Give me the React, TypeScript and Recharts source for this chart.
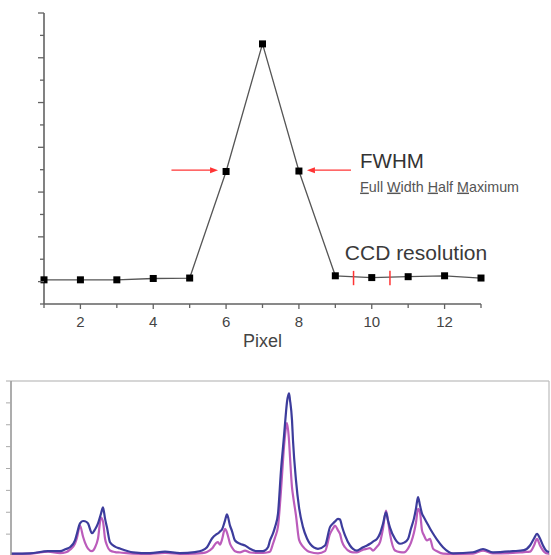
import { LineChart, Line, XAxis, YAxis, ReferenceLine, ReferenceDot } from 'recharts';

// top panel: intensity per CCD pixel
const pixels = [1, 2, 3, 4, 5, 6, 7, 8, 9, 10, 11, 12, 13];
const fwhmProfile = [0.04, 0.04, 0.04, 0.07, 0.08, 2.46, 5.31, 2.47, 0.13, 0.09, 0.11, 0.13, 0.08];
const pixelTicks = [1, 2, 3, 4, 5, 6, 7, 8, 9, 10, 11, 12, 13];
const levelTicks = [-0.5, 0, 0.5, 1, 1.5, 2, 2.5, 3, 3.5, 4, 4.5, 5, 5.5, 6];
const ccdEdges = [9.5, 10.5];

// bottom panel: two spectra
const channels = [
  0, 19, 37, 49, 55, 59, 64, 66, 69, 72, 74, 77, 81, 84, 87, 90, 92, 94, 96, 99,
  104, 109, 122, 139, 154, 169, 184, 191, 196, 201, 205, 207, 209, 211, 214, 216, 219, 221, 224, 229,
  234, 239, 246, 252, 257, 259, 262, 264, 267, 270, 273, 275, 276, 278, 279, 281, 282, 285, 288, 292,
  296, 299, 307, 314, 319, 322, 324, 327, 329, 331, 334, 339, 342, 346, 352, 356, 359, 362, 366, 369,
  372, 375, 377, 379, 384, 389, 393, 397, 400, 403, 405, 407, 409, 411, 413, 416, 419, 422, 426, 432,
  442, 462, 472, 482, 502, 513, 519, 523, 526, 529, 532, 535, 538,
];
const blueCounts = [
  0.11, 0.12, 0.22, 0.22, 0.32, 0.40, 0.71, 1.03, 1.49, 1.60, 1.59, 1.49, 1.04, 1.21, 1.49, 1.94, 2.22, 1.72, 1.30, 0.63,
  0.43, 0.34, 0.17, 0.13, 0.20, 0.13, 0.18, 0.25, 0.40, 0.80, 0.98, 1.03, 1.12, 1.21, 1.62, 1.90, 1.39, 1.14, 0.71, 0.56,
  0.48, 0.33, 0.22, 0.22, 0.40, 0.71, 1.03, 1.32, 1.94, 3.92, 5.48, 6.58, 7.04, 7.44, 7.13, 6.21, 5.28, 3.46, 2.23, 1.32,
  0.80, 0.56, 0.33, 0.48, 1.32, 1.49, 1.58, 1.70, 1.67, 1.35, 0.94, 0.48, 0.33, 0.25, 0.40, 0.48, 0.56, 0.66, 0.78, 1.03,
  1.47, 1.99, 1.62, 1.30, 0.78, 0.56, 0.61, 0.78, 1.26, 1.72, 2.17, 2.69, 2.31, 1.94, 1.76, 1.51, 1.26, 1.03, 0.75, 0.40,
  0.12, 0.17, 0.32, 0.17, 0.22, 0.27, 0.48, 0.80, 1.01, 0.80, 0.48, 0.25, 0.18,
];
const magentaCounts = [
  0.10, 0.11, 0.20, 0.13, 0.17, 0.29, 0.57, 0.84, 1.39, 0.89, 0.61, 0.34, 0.22, 0.39, 0.80, 1.76, 1.58, 0.80, 0.48, 0.25,
  0.18, 0.16, 0.11, 0.10, 0.14, 0.10, 0.11, 0.13, 0.18, 0.34, 0.59, 0.63, 0.52, 0.75, 1.24, 1.07, 0.57, 0.39, 0.22, 0.17,
  0.25, 0.16, 0.14, 0.14, 0.17, 0.20, 0.56, 0.84, 1.35, 3.00, 4.99, 5.89, 6.07, 5.29, 4.53, 3.14, 2.77, 1.85, 0.75, 0.43,
  0.25, 0.18, 0.12, 0.22, 1.01, 1.26, 1.39, 1.17, 1.01, 0.66, 0.40, 0.20, 0.17, 0.17, 0.29, 0.33, 0.36, 0.25, 0.43, 0.63,
  1.26, 2.08, 1.62, 1.01, 0.25, 0.18, 0.17, 0.34, 0.61, 1.07, 1.53, 2.15, 1.99, 1.17, 0.94, 0.71, 0.78, 0.34, 0.22, 0.11,
  0.10, 0.11, 0.25, 0.12, 0.14, 0.18, 0.20, 0.48, 0.78, 0.48, 0.25, 0.13, 0.11,
];
const countTicks = [0, 1, 2, 3, 4, 5, 6, 7, 8];

const pixelRows = pixels.map((px, i) => ({ px, level: fwhmProfile[i] }));
const spectrumRows = channels.map((ch, i) => ({ ch, blue: blueCounts[i], magenta: magentaCounts[i] }));

const grey = '#626262';
const red = '#ff3434';
const font = '"Liberation Sans", Arial, sans-serif';

function LevelTick(props: any) {
  const { x, y, payload } = props;
  const len = Number.isInteger(payload.value) ? 6 : 4;
  return <line x1={x - len} x2={x} y1={y} y2={y} stroke={grey} strokeWidth={1.3} />;
}

function PixelTick(props: any) {
  const { x, y, payload } = props;
  const even = payload.value % 2 === 0;
  return (
    <g>
      <line x1={x} x2={x} y1={y} y2={y + (even ? 5 : 4)} stroke={grey} strokeWidth={1.3} />
      {even && (
        <text x={x} y={y + 23} textAnchor="middle" fontSize={15} fill="#444" fontFamily={font}>
          {payload.value}
        </text>
      )}
    </g>
  );
}

function CountTick(props: any) {
  const { x, y } = props;
  return <line x1={x - 5} x2={x} y1={y} y2={y} stroke="#aaa" strokeWidth={1} />;
}

function Arrow(props: any) {
  const { x1, y1, x2, y2 } = props;
  const dir = Math.sign(x2 - x1);
  const hx = x2 - dir * 8;
  return (
    <g>
      <line x1={x1} y1={y1} x2={hx} y2={y2} stroke={red} strokeWidth={1.3} />
      <polygon points={`${x2},${y2} ${hx},${y2 - 3} ${hx},${y2 + 3}`} fill={red} />
    </g>
  );
}

const u = { textDecoration: 'underline' };

export default function App() {
  return (
    <div style={{ position: 'relative', width: 551, height: 555, overflow: 'hidden', background: '#fff', fontFamily: font }}>
      <style>{'body{margin:0}'}</style>
      <div style={{ position: 'absolute', left: 0, top: 0 }}>
        <LineChart width={551} height={360} data={pixelRows} margin={{ top: 13, right: 70, bottom: 0, left: 34 }}>
          <XAxis
            dataKey="px"
            type="number"
            domain={[1, 13]}
            ticks={pixelTicks}
            interval={0}
            height={56}
            tickSize={0}
            tickMargin={0}
            tickLine={false}
            tick={<PixelTick />}
            axisLine={{ stroke: grey, strokeWidth: 1.6 }}
            label={{ value: 'Pixel', position: 'insideBottom', offset: 13, fontSize: 18, fill: '#444' }}
          />
          <YAxis
            type="number"
            domain={[-0.5, 6]}
            ticks={levelTicks}
            interval={0}
            width={10}
            tickSize={0}
            tickMargin={0}
            tickLine={false}
            tick={<LevelTick />}
            axisLine={{ stroke: grey, strokeWidth: 1.6 }}
          />
          <Line
            dataKey="level"
            stroke="#555"
            strokeWidth={1.3}
            isAnimationActive={false}
            dot={(p: any) => <rect key={p.index} x={p.cx - 3.5} y={p.cy - 3.5} width={7} height={7} fill="#000" />}
            activeDot={false}
          />
          <ReferenceLine segment={[{ x: 4.5, y: 2.49 }, { x: 5.78, y: 2.49 }]} shape={<Arrow />} />
          <ReferenceLine segment={[{ x: 9.43, y: 2.49 }, { x: 8.22, y: 2.49 }]} shape={<Arrow />} />
          {ccdEdges.map((e) => (
            <ReferenceLine key={e} segment={[{ x: e, y: -0.08 }, { x: e, y: 0.24 }]} stroke={red} strokeWidth={1.5} />
          ))}
          <ReferenceDot
            x={9.68}
            y={2.54}
            shape={(p: any) => (
              <text x={p.cx} y={p.cy} fontSize={20.5} fill="#333" fontFamily={font}>FWHM</text>
            )}
          />
          <ReferenceDot
            x={9.68}
            y={2.01}
            shape={(p: any) => (
              <text x={p.cx} y={p.cy} fontSize={14.3} fill="#555" fontFamily={font}>
                <tspan style={u}>F</tspan>ull <tspan style={u}>W</tspan>idth <tspan style={u}>H</tspan>alf{' '}
                <tspan style={u}>M</tspan>aximum
              </text>
            )}
          />
          <ReferenceDot
            x={9.26}
            y={0.48}
            shape={(p: any) => (
              <text x={p.cx} y={p.cy} fontSize={21} fill="#3a3a3a" fontFamily={font}>CCD resolution</text>
            )}
          />
        </LineChart>
      </div>
      <div style={{ position: 'absolute', left: 0, top: 370 }}>
        <LineChart width={551} height={186} data={spectrumRows} margin={{ top: 11, right: 2, bottom: 0, left: 0 }}>
          <XAxis dataKey="ch" type="number" domain={[0, 538]} hide />
          <YAxis
            type="number"
            domain={[0, 8]}
            ticks={countTicks}
            interval={0}
            width={11}
            tickSize={0}
            tickMargin={0}
            tickLine={false}
            tick={<CountTick />}
            axisLine={{ stroke: '#999', strokeWidth: 1.6 }}
          />
          <ReferenceLine y={8} stroke="#c8c8c8" strokeWidth={1.5} />
          <ReferenceLine x={538} stroke="#bdbdbd" strokeWidth={1.2} />
          <Line
            dataKey="magenta"
            type="monotone"
            stroke="#bb5cbb"
            strokeWidth={2.2}
            dot={false}
            activeDot={false}
            isAnimationActive={false}
          />
          <Line
            dataKey="blue"
            type="monotone"
            stroke="#3c3c9c"
            strokeWidth={2.2}
            dot={false}
            activeDot={false}
            isAnimationActive={false}
          />
        </LineChart>
      </div>
    </div>
  );
}
